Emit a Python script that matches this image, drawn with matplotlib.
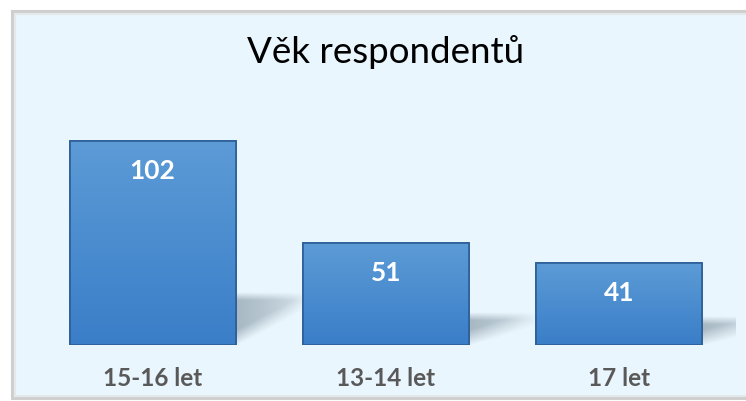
import numpy as np
import matplotlib.pyplot as plt
from matplotlib.patches import Rectangle

# data
categories = ['15-16 let', '13-14 let', '17 let']
values = [102, 51, 41]
title = 'Věk respondentů'

W, H = 746, 401
fig = plt.figure(figsize=(W / 100, H / 100), dpi=100)
fig.patch.set_facecolor('white')

# chart frame with light blue fill
frame = Rectangle((12 / W, 3 / H), 760 / W, 387 / H, transform=fig.transFigure,
                  facecolor='#EAF6FD', edgecolor='#CFCFCF', linewidth=2.2, zorder=-2)
fig.patches.append(frame)
inner = Rectangle((15 / W, 5 / H), 760 / W, 382 / H, transform=fig.transFigure,
                  facecolor='none', edgecolor='#E4E8EB', linewidth=1.5, zorder=-1)
fig.patches.append(inner)

ax = fig.add_axes([36 / W, 56 / H, 700 / W, 225 / H])
ax.set_zorder(1)
ax.set_facecolor('none')
for s in ax.spines.values():
    s.set_visible(False)
ax.set_xticks([])
ax.set_yticks([])

x = np.arange(len(categories))
width = 0.711
bars = ax.bar(x, values, width=width, color='#4A8BD0', edgecolor='#2F62A0',
              linewidth=1.2, zorder=3)

# vertical gradient inside each bar
grad = np.linspace(0, 1, 256).reshape(-1, 1)
cmap = plt.matplotlib.colors.LinearSegmentedColormap.from_list('b', ['#3A7EC8', '#5C9BD6'])
shadow_rgb = np.array([0.40, 0.48, 0.54])
for b in bars:
    x0, w, h = b.get_x(), b.get_width(), b.get_height()
    im = ax.imshow(grad, extent=(x0, x0 + w, 0, h), origin='lower', cmap=cmap,
                   aspect='auto', zorder=3.5)
    im.set_clip_path(b)
    edge = Rectangle((x0, 0), w, h, facecolor='none', edgecolor='#2D5E96',
                     linewidth=1.2, zorder=4)
    ax.add_patch(edge)

    # soft wedge shadow to the right of the bar
    x1 = x0 + w
    top = 0.2 * h + 4
    sw = 0.3
    u = np.linspace(0, 1, 150)
    v = np.linspace(0, top + 4, 150)
    U, V = np.meshgrid(u, v)
    lower = 1 + U * (0.8 * top - 1)
    a = np.clip((top - V) / 4 + 0.5, 0, 1) * np.clip((V - lower) / 8 + 0.2, 0, 1)
    a *= np.clip(1 - U, 0, 1) ** 0.5
    rgba = np.zeros(U.shape + (4,))
    rgba[..., :3] = shadow_rgb
    rgba[..., 3] = 0.5 * a
    ax.imshow(rgba, extent=(x1, x1 + sw, 0, top + 4), origin='lower',
              aspect='auto', zorder=2, interpolation='bilinear')

    ax.text(x0 + w / 2, h - 15, str(int(h)), ha='center', va='center',
            color='white', fontsize=19, fontweight='bold', family='Lato', zorder=5)

for xi, c in zip(x, categories):
    ax.text(xi, -16.5, c, ha='center', va='center', color='#595959',
            fontsize=17.5, fontweight='bold', family='Lato', clip_on=False)

ax.set_xlim(-0.5, 2.5)
ax.set_ylim(0, 112.5)

fig.text(386 / W, 1 - 52 / H, title, ha='center', va='center', fontsize=26.5,
         family='Lato', color='black')

fig.savefig('out.png', dpi=100)
